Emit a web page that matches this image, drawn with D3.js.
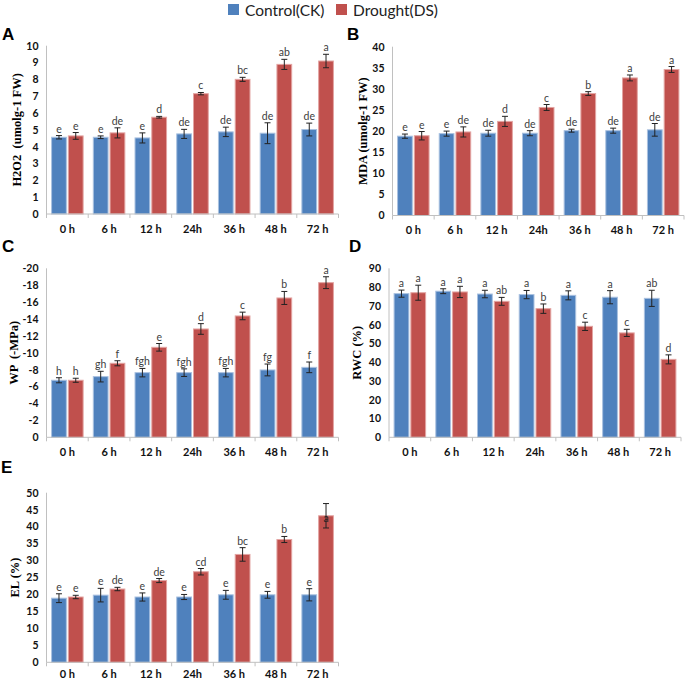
<!DOCTYPE html>
<html>
<head>
<meta charset="utf-8">
<script src="https://cdnjs.cloudflare.com/ajax/libs/d3/7.8.5/d3.min.js"></script>
<style>
  body { margin: 0; background: #fff; }
  svg { display: block; }
</style>
</head>
<body>
<svg id="chart" width="685" height="681"></svg>
<script>
// categories and series
const timePoints = ["0 h", "6 h", "12 h", "24h", "36 h", "48 h", "72 h"];
const seriesNames = ["Control(CK)", "Drought(DS)"];

// A: H2O2
const h2o2Control = [4.56, 4.56, 4.52, 4.76, 4.88, 4.80, 5.02];
const h2o2ControlErr = [0.10, 0.08, 0.30, 0.27, 0.28, 0.62, 0.38];
const h2o2Drought = [4.64, 4.82, 5.75, 7.15, 8.00, 8.89, 9.09];
const h2o2DroughtErr = [0.20, 0.30, 0.05, 0.07, 0.12, 0.30, 0.40];
const h2o2ControlSig = ["e", "e", "e", "de", "de", "de", "de"];
const h2o2DroughtSig = ["e", "de", "d", "c", "bc", "ab", "a"];

// B: MDA
const mdaControl = [18.8, 19.4, 19.5, 19.5, 20.1, 20.1, 20.3];
const mdaControlErr = [0.5, 0.6, 0.7, 0.6, 0.35, 0.6, 1.5];
const mdaDrought = [18.9, 19.8, 22.3, 25.6, 28.9, 32.6, 34.6];
const mdaDroughtErr = [1.0, 1.2, 1.2, 0.7, 0.45, 0.7, 0.7];
const mdaControlSig = ["e", "e", "de", "de", "de", "de", "de"];
const mdaDroughtSig = ["e", "de", "d", "c", "b", "a", "a"];

// C: WP (-MPa)
const wpControl = [6.75, 7.18, 7.65, 7.65, 7.65, 7.97, 8.28];
const wpControlErr = [0.30, 0.63, 0.50, 0.45, 0.50, 0.70, 0.63];
const wpDrought = [6.75, 8.76, 10.65, 12.82, 14.36, 16.49, 18.30];
const wpDroughtErr = [0.24, 0.30, 0.45, 0.63, 0.45, 0.77, 0.70];
const wpControlSig = ["h", "gh", "fgh", "fgh", "fgh", "fg", "f"];
const wpDroughtSig = ["h", "f", "e", "d", "c", "b", "a"];

// D: RWC (%)
const rwcControl = [76.5, 77.8, 76.3, 76.0, 75.6, 74.6, 74.0];
const rwcControlErr = [1.9, 1.3, 2.0, 2.2, 2.4, 3.5, 4.3];
const rwcDrought = [77.0, 77.4, 72.4, 68.5, 59.1, 55.6, 41.5];
const rwcDroughtErr = [4.0, 3.0, 2.1, 2.5, 2.2, 1.9, 2.4];
const rwcControlSig = ["a", "a", "a", "a", "a", "a", "ab"];
const rwcDroughtSig = ["a", "a", "ab", "b", "c", "c", "d"];

// E: EL (%)
const elControl = [18.9, 19.8, 19.25, 19.25, 19.9, 19.9, 19.9];
const elControlErr = [1.3, 2.0, 1.2, 0.75, 1.3, 1.0, 1.8];
const elDrought = [19.25, 21.6, 24.1, 26.7, 31.8, 36.2, 43.2];
const elDroughtErr = [0.5, 0.5, 0.6, 0.95, 2.0, 0.9, 3.6];
const elControlSig = ["e", "e", "e", "e", "e", "e", "e"];
const elDroughtSig = ["e", "de", "de", "cd", "bc", "b", "a"];

// tick values
const h2o2Ticks = d3.range(0, 11, 1);
const mdaTicks = d3.range(0, 41, 5);
const wpTicks = d3.range(0, 21, 2);
const rwcTicks = d3.range(0, 91, 10);
const elTicks = d3.range(0, 51, 5);

const colors = ["#4F81BD", "#C0504D"];
const edgeColors = ["#a9c1e0", "#e3a4a2"];

const svg = d3.select("#chart");

// legend
const legend = svg.append("g");
const legendX = [228, 336];
seriesNames.forEach(function(name, i) {
    legend.append("rect")
        .attr("x", legendX[i]).attr("y", 4)
        .attr("width", 11).attr("height", 11)
        .attr("fill", colors[i]);
    legend.append("text")
        .attr("x", legendX[i] + 17).attr("y", 15.5)
        .attr("font-family", "Lato, 'Open Sans', sans-serif")
        .attr("font-size", 15.5)
        .attr("fill", "#222")
        .text(name);
});

const panels = [
    { letter: "A", lx: 2, ly: 40, left: 46.5, right: 338.5, top: 45.7, zero: 214, max: 10,
      ticks: h2o2Ticks, fmt: d => d, title: "H2O2  (umolg-1 FW)", tx: 17, labOff: 18.5,
      values: [h2o2Control, h2o2Drought], errs: [h2o2ControlErr, h2o2DroughtErr],
      sigs: [h2o2ControlSig, h2o2DroughtSig] },
    { letter: "B", lx: 347, ly: 40, left: 392.5, right: 684, top: 46.7, zero: 215.5, max: 40,
      ticks: mdaTicks, fmt: d => d, title: "MDA (umolg-1 FW)", tx: 363, labOff: 18.5,
      values: [mdaControl, mdaDrought], errs: [mdaControlErr, mdaDroughtErr],
      sigs: [mdaControlSig, mdaDroughtSig] },
    { letter: "C", lx: 2, ly: 252, left: 46.5, right: 338.5, top: 268.3, zero: 437.3, max: 20,
      ticks: wpTicks, fmt: d => d === 0 ? "0" : "-" + d, title: "WP  (-MPa)", tx: 14, labOff: 18.5,
      values: [wpControl, wpDrought], errs: [wpControlErr, wpDroughtErr],
      sigs: [wpControlSig, wpDroughtSig] },
    { letter: "D", lx: 349, ly: 252, left: 389, right: 681, top: 268.3, zero: 437.3, max: 90,
      ticks: rwcTicks, fmt: d => d, title: "RWC (%)", tx: 357, labOff: 18.5,
      values: [rwcControl, rwcDrought], errs: [rwcControlErr, rwcDroughtErr],
      sigs: [rwcControlSig, rwcDroughtSig] },
    { letter: "E", lx: 1, ly: 473, left: 46.5, right: 338.5, top: 492.7, zero: 662.3, max: 50,
      ticks: elTicks, fmt: d => d, title: "EL (%)", tx: 15, labOff: 15.5,
      values: [elControl, elDrought], errs: [elControlErr, elDroughtErr],
      sigs: [elControlSig, elDroughtSig], onBar: [[], ["72 h"]] }
];

function drawPanel(p) {
    const g = svg.append("g");

    const x0 = d3.scaleBand()
        .domain(timePoints)
        .range([p.left, p.right])
        .paddingInner(0.22)
        .paddingOuter(0.11);
    const x1 = d3.scaleBand()
        .domain([0, 1])
        .range([0, x0.bandwidth()])
        .paddingInner(0.06);
    const y = d3.scaleLinear()
        .domain([0, p.max])
        .range([p.zero, p.top]);

    // panel letter
    g.append("text")
        .attr("x", p.lx).attr("y", p.ly)
        .attr("font-family", "'Liberation Sans', Arial, sans-serif")
        .attr("font-weight", "bold")
        .attr("font-size", 17)
        .attr("fill", "#000")
        .text(p.letter);

    // y axis
    const yAxis = g.append("g")
        .attr("transform", "translate(" + p.left + ",0)")
        .call(d3.axisLeft(y).tickValues(p.ticks).tickSize(0).tickPadding(8).tickFormat(p.fmt));
    yAxis.select(".domain").remove();
    yAxis.selectAll("text")
        .attr("font-family", "Lato, sans-serif")
        .attr("font-weight", "bold")
        .attr("font-size", 10.5)
        .attr("fill", "#111");
    g.append("line")
        .attr("x1", p.left).attr("x2", p.left)
        .attr("y1", y(p.max)).attr("y2", y(0))
        .attr("stroke", "#c0c0c0");

    // y title
    g.append("text")
        .attr("transform", "translate(" + p.tx + "," + ((y(0) + y(p.max)) / 2) + ") rotate(-90)")
        .attr("text-anchor", "middle")
        .attr("dy", "0.35em")
        .attr("font-family", "'Liberation Serif', 'Times New Roman', serif")
        .attr("font-weight", "bold")
        .attr("font-size", 12.5)
        .attr("fill", "#000")
        .style("white-space", "pre")
        .text(p.title);

    // bars
    const groups = g.selectAll(".grp")
        .data(timePoints)
        .enter().append("g")
        .attr("transform", d => "translate(" + x0(d) + ",0)");

    groups.each(function(t, i) {
        const grp = d3.select(this);
        [0, 1].forEach(function(s) {
            const v = p.values[s][i];
            const e = p.errs[s][i];
            const bx = x1(s);
            const bw = x1.bandwidth();
            grp.append("rect")
                .attr("x", bx + 0.5).attr("y", y(v))
                .attr("width", bw - 1).attr("height", y(0) - y(v))
                .attr("fill", colors[s])
                .attr("stroke", edgeColors[s])
                .attr("stroke-width", 1);
            const cx = bx + bw / 2;
            grp.append("line")
                .attr("x1", cx).attr("x2", cx)
                .attr("y1", y(v - e)).attr("y2", y(v + e))
                .attr("stroke", "#222").attr("stroke-width", 1);
            [v - e, v + e].forEach(function(c) {
                grp.append("line")
                    .attr("x1", cx - 3).attr("x2", cx + 3)
                    .attr("y1", y(c)).attr("y2", y(c))
                    .attr("stroke", "#222").attr("stroke-width", 1);
            });
            const onBar = p.onBar && p.onBar[s].indexOf(t) >= 0;
            grp.append("text")
                .attr("x", cx)
                .attr("y", onBar ? y(v) + 6 : y(v + e) - 3)
                .attr("text-anchor", "middle")
                .attr("font-family", "Lato, sans-serif")
                .attr("font-size", 10.5)
                .attr("fill", onBar ? "#222" : "#404040")
                .text(p.sigs[s][i]);
        });
    });

    // x axis
    g.append("line")
        .attr("x1", p.left).attr("x2", p.right)
        .attr("y1", y(0)).attr("y2", y(0))
        .attr("stroke", "#c0c0c0");
    const half = (x0.step() - x0.bandwidth()) / 2;
    const bounds = timePoints.map(d => x0(d) - half).concat([p.right]);
    g.selectAll(".xtick")
        .data(bounds)
        .enter().append("line")
        .attr("x1", d => d).attr("x2", d => d)
        .attr("y1", y(0)).attr("y2", y(0) + 4)
        .attr("stroke", "#c0c0c0");
    g.selectAll(".xlab")
        .data(timePoints)
        .enter().append("text")
        .attr("x", d => x0(d) + x0.bandwidth() / 2)
        .attr("y", y(0) + p.labOff)
        .attr("text-anchor", "middle")
        .attr("font-family", "Lato, sans-serif")
        .attr("font-weight", "bold")
        .attr("font-size", 11)
        .attr("fill", "#111")
        .text(d => d);
}

panels.forEach(drawPanel);
</script>
</body>
</html>
